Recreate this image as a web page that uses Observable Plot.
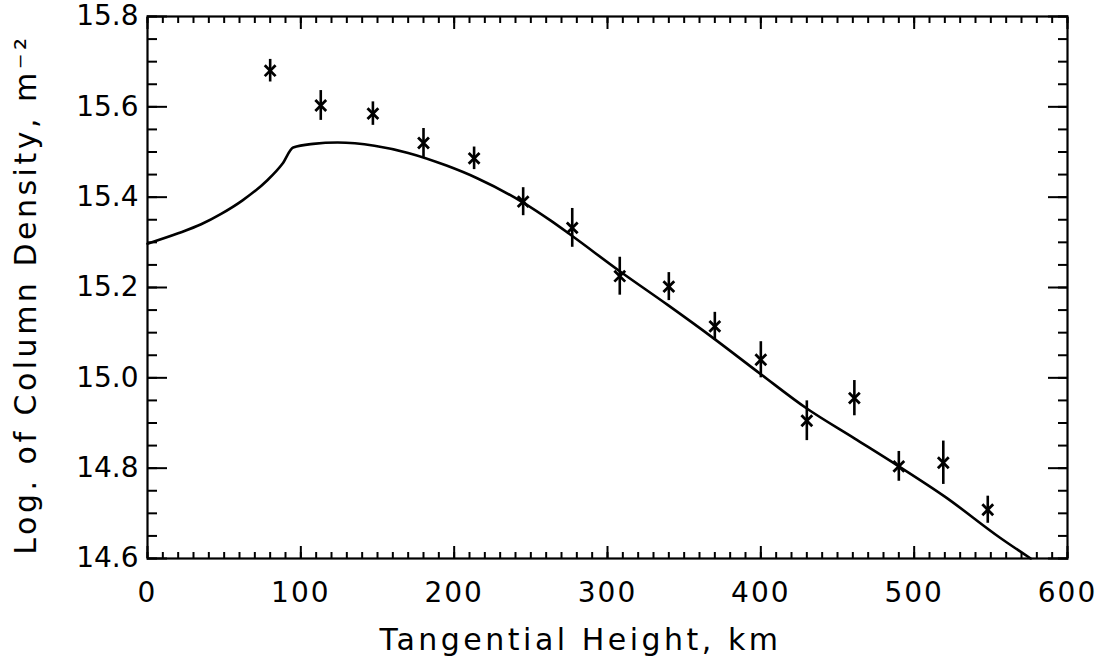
<!DOCTYPE html>
<html><head><meta charset="utf-8">
<script src="https://cdn.jsdelivr.net/npm/d3@7"></script>
<script src="https://cdn.jsdelivr.net/npm/@observablehq/plot@0.6"></script>
<style>
body{margin:0;background:#fff}
g[aria-label="x-axis tick label"] text{letter-spacing:2px}
</style>
</head><body><div id="chart"></div>
<script>
// Observations (tangential height, km ; log10 column density ; error half-width)
const obsHeight = [80, 113, 147, 180, 213, 245, 277, 308, 340, 370, 400, 430, 461, 490, 519, 548];
const obsLogDensity = [15.68, 15.603, 15.585, 15.52, 15.486, 15.39, 15.332, 15.225, 15.202, 15.114, 15.04, 14.905, 14.955, 14.804, 14.812, 14.708];
const obsError = [0.025, 0.033, 0.026, 0.032, 0.025, 0.031, 0.043, 0.042, 0.031, 0.031, 0.04, 0.044, 0.039, 0.033, 0.048, 0.03];

// Model curve
const modelHeight = [0, 20, 35, 48, 62, 78, 88, 95, 108, 124, 148, 170, 195, 215, 245, 263, 277, 308, 339, 369, 400, 430, 461, 490, 520, 556, 576];
const modelLogDensity = [15.297, 15.32, 15.34, 15.363, 15.393, 15.437, 15.474, 15.51, 15.518, 15.521, 15.514, 15.498, 15.47, 15.442, 15.388, 15.348, 15.314, 15.236, 15.162, 15.088, 15.008, 14.932, 14.866, 14.804, 14.737, 14.646, 14.6];

const xMajorTicks = [0, 100, 200, 300, 400, 500, 600];
const yMajorTicks = [14.6, 14.8, 15.0, 15.2, 15.4, 15.6, 15.8];
const xMinorTicks = d3.range(0, 601, 10);
const yMinorTicks = d3.range(0, 25).map(i => 14.6 + i * 0.05);

const xTitle = "Tangential Height, km";
const yTitle = "Log. of Column Density, m\u207B\u00B2";

const obs = obsHeight.map((h, i) => ({h, v: obsLogDensity[i], e: obsError[i]}));
const model = modelHeight.map((h, i) => ({h, v: modelLogDensity[i]}));

const tk = {fill: "none", label: null, stroke: "#000", strokeWidth: 2};

const chart = Plot.plot({
  width: 1104,
  height: 669,
  marginLeft: 147,
  marginRight: 37,
  marginTop: 16,
  marginBottom: 111,
  style: {fontFamily: "'DejaVu Sans', sans-serif", fontSize: "28px", color: "#000", background: "#fff"},
  x: {domain: [0, 600]},
  y: {domain: [14.6, 15.8]},
  marks: [
    // inward ticks on all four sides
    Plot.axisX({...tk, anchor: "bottom", ticks: xMinorTicks, tickSize: 6, dy: -6}),
    Plot.axisX({...tk, anchor: "bottom", ticks: xMajorTicks, tickSize: 12, dy: -12}),
    Plot.axisX({...tk, anchor: "top", ticks: xMinorTicks, tickSize: 6, dy: 6}),
    Plot.axisX({...tk, anchor: "top", ticks: xMajorTicks, tickSize: 12, dy: 12}),
    Plot.axisY({...tk, anchor: "left", ticks: yMinorTicks, tickSize: 10, dx: 10}),
    Plot.axisY({...tk, anchor: "left", ticks: yMajorTicks, tickSize: 20, dx: 20}),
    Plot.axisY({...tk, anchor: "right", ticks: yMinorTicks, tickSize: 10, dx: -10}),
    Plot.axisY({...tk, anchor: "right", ticks: yMajorTicks, tickSize: 20, dx: -20}),
    // tick labels
    Plot.axisX({anchor: "bottom", ticks: xMajorTicks, tickSize: 0, tickPadding: 24, tickFormat: d => String(d), label: null, fontSize: 28}),
    Plot.axisY({anchor: "left", ticks: yMajorTicks, tickSize: 0, tickPadding: 9, tickFormat: d => d.toFixed(1), label: null, fontSize: 28}),
    Plot.frame({stroke: "#000", strokeWidth: 2.2}),
    // model
    Plot.line(model, {x: "h", y: "v", stroke: "#000", strokeWidth: 2.6, curve: "monotone-x"}),
    // observations
    Plot.ruleX(obs, {x: "h", y1: d => d.v - d.e, y2: d => d.v + d.e, stroke: "#000", strokeWidth: 2.6}),
    Plot.dot(obs, {x: "h", y: "v", symbol: "times", r: 5, stroke: "#000", strokeWidth: 2.8}),
    // titles
    Plot.text([xTitle], {frameAnchor: "bottom", textAnchor: "middle", lineAnchor: "middle", dy: 82, dx: -27, text: d => d, fontSize: 30, fill: "#000"}),
    Plot.text([yTitle], {frameAnchor: "left", textAnchor: "middle", lineAnchor: "middle", dx: -121, dy: 7, rotate: -90, text: d => d, fontSize: 30, fill: "#000"})
  ]
});
document.getElementById("chart").appendChild(chart);
document.querySelectorAll('g[aria-label="text"] text').forEach(t => t.style.letterSpacing = "3.5px");
</script>
</body></html>
